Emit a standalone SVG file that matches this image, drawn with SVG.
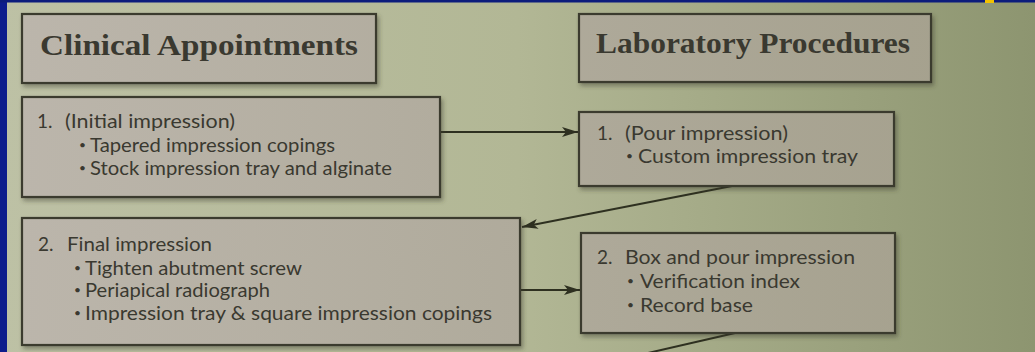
<svg xmlns="http://www.w3.org/2000/svg" width="1035" height="352" viewBox="0 0 1035 352">
  <defs>
    <linearGradient id="bg" gradientUnits="userSpaceOnUse" x1="0" y1="0" x2="1035" y2="0">
      <stop offset="0" stop-color="#bdc1a5"/>
      <stop offset="0.5" stop-color="#b2b795"/>
      <stop offset="1" stop-color="#8d9570"/>
    </linearGradient>
    <linearGradient id="boxfill" gradientUnits="userSpaceOnUse" x1="0" y1="0" x2="1035" y2="0">
      <stop offset="0" stop-color="#bcb6ac"/>
      <stop offset="1" stop-color="#a39f8b"/>
    </linearGradient>
    <filter id="shadow" x="-5%" y="-10%" width="115%" height="130%">
      <feDropShadow dx="2" dy="3" stdDeviation="2" flood-color="#3a3a2a" flood-opacity="0.45"/>
    </filter>
    <marker id="arrow" viewBox="0 0 16 10" refX="16" refY="5" markerWidth="16" markerHeight="10" markerUnits="userSpaceOnUse" orient="auto">
      <path d="M0,0 L16,5 L0,10 L4,5 Z" fill="#2e3020"/>
    </marker>
    <style>
      .box { fill: url(#boxfill); stroke: #3b3b2e; stroke-width: 2.2; filter: url(#shadow); }
      .head { font-family: "Liberation Serif", serif; font-weight: bold; font-size: 30px; fill: #3a3930; }
      .body { font-family: Lato, "Open Sans", sans-serif; font-size: 19px; fill: #3a3930; }
      .bul { font-family: Lato, "Open Sans", sans-serif; font-size: 12px; fill: #3a3930; }
      .conn { stroke: #2e3020; stroke-width: 2; fill: none; }
    </style>
  </defs>

  <rect x="0" y="0" width="1035" height="352" fill="url(#bg)"/>
  <rect x="0" y="0" width="7" height="352" fill="#0c1c8c"/>
  <rect x="0" y="0" width="1035" height="2.5" fill="#0c1c7c"/>
  <rect x="985" y="0" width="9" height="3" fill="#f2c200"/>

  <g id="connectors">
    <line class="conn" x1="441" y1="132" x2="578" y2="132" marker-end="url(#arrow)"/>
    <line class="conn" x1="732" y1="186" x2="522" y2="227" marker-end="url(#arrow)"/>
    <line class="conn" x1="521" y1="290" x2="580" y2="290" marker-end="url(#arrow)"/>
    <line class="conn" x1="735" y1="333" x2="648" y2="353"/>
  </g>

  <g id="clinical-header">
    <rect class="box" x="22" y="14" width="354" height="69"/>
    <text class="head" x="40" y="55" textLength="318" lengthAdjust="spacingAndGlyphs">Clinical Appointments</text>
  </g>

  <g id="lab-header">
    <rect class="box" x="579" y="14" width="352" height="68"/>
    <text class="head" x="596" y="53" textLength="314" lengthAdjust="spacingAndGlyphs">Laboratory Procedures</text>
  </g>

  <g id="clinical-1">
    <rect class="box" x="22" y="97" width="418" height="100"/>
    <text class="body" x="37" y="128">1.</text>
    <text class="body" x="65" y="128" textLength="170" lengthAdjust="spacingAndGlyphs">(Initial impression)</text>
    <text class="bul" x="79" y="149">•</text>
    <text class="body" x="90" y="152" textLength="245" lengthAdjust="spacingAndGlyphs">Tapered impression copings</text>
    <text class="bul" x="79" y="172">•</text>
    <text class="body" x="90" y="175" textLength="302" lengthAdjust="spacingAndGlyphs">Stock impression tray and alginate</text>
  </g>

  <g id="lab-1">
    <rect class="box" x="579" y="112" width="315" height="74"/>
    <text class="body" x="597" y="140">1.</text>
    <text class="body" x="625" y="140" textLength="163" lengthAdjust="spacingAndGlyphs">(Pour impression)</text>
    <text class="bul" x="626" y="160">•</text>
    <text class="body" x="638" y="163" textLength="220" lengthAdjust="spacingAndGlyphs">Custom impression tray</text>
  </g>

  <g id="clinical-2">
    <rect class="box" x="22" y="218" width="498" height="127"/>
    <text class="body" x="38" y="251">2.</text>
    <text class="body" x="67" y="251" textLength="145" lengthAdjust="spacingAndGlyphs">Final impression</text>
    <text class="bul" x="74" y="272">•</text>
    <text class="body" x="85" y="275" textLength="217" lengthAdjust="spacingAndGlyphs">Tighten abutment screw</text>
    <text class="bul" x="74" y="294">•</text>
    <text class="body" x="85" y="297" textLength="185" lengthAdjust="spacingAndGlyphs">Periapical radiograph</text>
    <text class="bul" x="74" y="317">•</text>
    <text class="body" x="85" y="320" textLength="407" lengthAdjust="spacingAndGlyphs">Impression tray &amp; square impression copings</text>
  </g>

  <g id="lab-2">
    <rect class="box" x="581" y="233" width="314" height="100"/>
    <text class="body" x="597" y="264">2.</text>
    <text class="body" x="625" y="264" textLength="230" lengthAdjust="spacingAndGlyphs">Box and pour impression</text>
    <text class="bul" x="627" y="285">•</text>
    <text class="body" x="640" y="288" textLength="160" lengthAdjust="spacingAndGlyphs">Verification index</text>
    <text class="bul" x="627" y="309">•</text>
    <text class="body" x="640" y="312" textLength="113" lengthAdjust="spacingAndGlyphs">Record base</text>
  </g>
</svg>
